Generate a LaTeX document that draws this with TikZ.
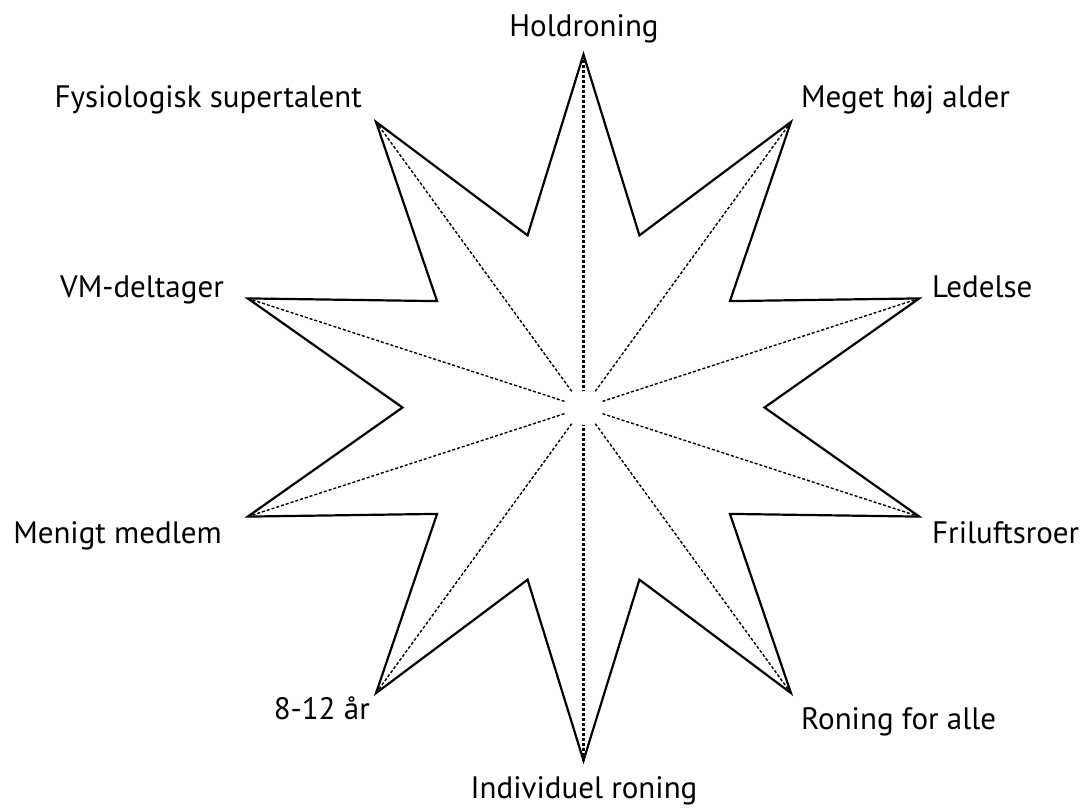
\documentclass[tikz,border=0pt]{standalone}
\usepackage{fontspec}
\setmainfont{PT Sans}
\usetikzlibrary{calc}
\begin{document}
\begin{tikzpicture}[x=1pt,y=1pt,
  star/.style={draw=black, line width=2.2pt, line join=miter},
  ray/.style={draw=black, line width=1.4pt, dash pattern=on 3pt off 2pt},
  axis/.style={draw=black, line width=2.4pt, dash pattern=on 3pt off 2pt},
  lbl/.style={font=\fontsize{31}{37}\selectfont, inner sep=0pt}]
\useasboundingbox (0,-807) rectangle (1081,0);
\coordinate (c) at (583.5,-407.5);
\foreach \i in {0,...,9} {
  \coordinate (t\i) at ($(c)+({90-36*\i}:353)$);
  \coordinate (n\i) at ($(c)+({72-36*\i}:181)$);
}
\draw[star] (t0) -- (n0)
  \foreach \i in {1,...,9} { -- (t\i) -- (n\i) } -- cycle;
\foreach \i in {1,2,3,4,6,7,8,9}
  \draw[ray] (t\i) -- ($(c)!19pt!(t\i)$);
\draw[axis] (t0) -- ($(c)!17pt!(t0)$);
\draw[axis] (t5) -- ($(c)!17pt!(t5)$);
\node[lbl, anchor=base] (l0) at (584,-36) {Holdroning};
\node[lbl, anchor=base west] (l1) at (801,-107) {Meget høj alder};
\node[lbl, anchor=base west] (l2) at (932,-297) {Ledelse};
\node[lbl, anchor=base west] (l3) at (932,-543) {Friluftsroer};
\node[lbl, anchor=base west] (l4) at (801,-729) {Roning for alle};
\node[lbl, anchor=base] (l5) at (584,-798) {Individuel roning};
\node[lbl, anchor=base east] (l6) at (370,-719) {8-12 år};
\node[lbl, anchor=base east] (l7) at (222,-543) {Menigt medlem};
\node[lbl, anchor=base east] (l8) at (224,-297) {VM-deltager};
\node[lbl, anchor=base east] (l9) at (362,-107) {Fysiologisk supertalent};
\end{tikzpicture}
\end{document}
